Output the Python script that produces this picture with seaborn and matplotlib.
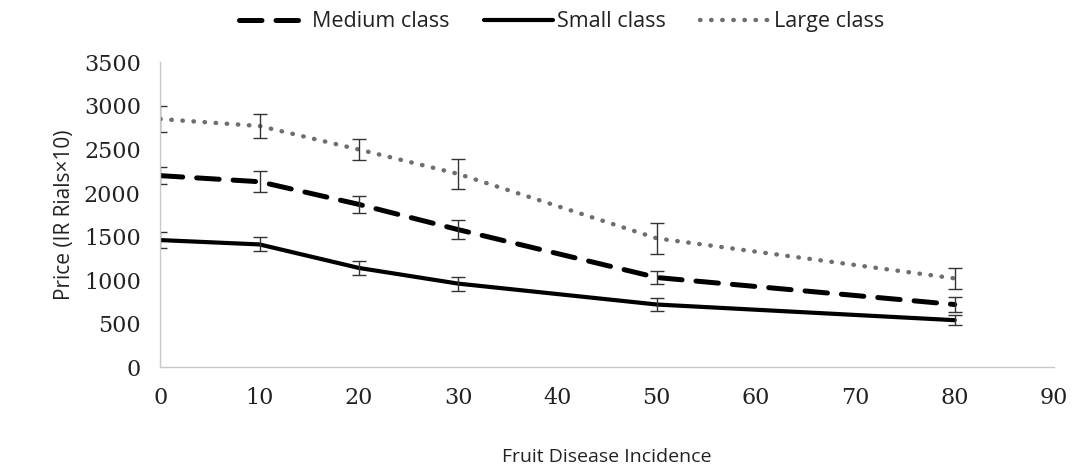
import pandas as pd
import seaborn as sns
import matplotlib.pyplot as plt

# Data
incidence = [0, 10, 20, 30, 50, 80]
medium_price = [2200, 2130, 1870, 1580, 1030, 720]
small_price = [1460, 1410, 1140, 960, 720, 540]
large_price = [2850, 2770, 2500, 2220, 1480, 1020]
medium_err = [100, 120, 100, 110, 80, 90]
small_err = [90, 80, 80, 80, 70, 60]
large_err = [150, 140, 120, 170, 180, 120]

classes = ['Medium class', 'Small class', 'Large class']
prices = [medium_price, small_price, large_price]
errors = [medium_err, small_err, large_err]

rows = []
for c, p, e in zip(classes, prices, errors):
    for x, y, err in zip(incidence, p, e):
        rows.append({'incidence': x, 'price': y, 'err': err, 'cls': c})
df = pd.DataFrame(rows)

sns.set_style('white')
plt.rcParams['font.family'] = ['Open Sans', 'DejaVu Sans']

fig = plt.figure(figsize=(10.9, 4.66), dpi=100)
ax = fig.add_axes([0.147, 0.212, 0.82, 0.654])

styles = {
    'Medium class': dict(color='black', ls=(0, (4.5, 2.8)), lw=3.6),
    'Small class': dict(color='black', ls='-', lw=3.0),
    'Large class': dict(color='#6e6e6e', ls=(0, (0.1, 2.4)), lw=3.2),
}

for c in classes:
    sub = df[df['cls'] == c]
    st = styles[c]
    sns.lineplot(data=sub, x='incidence', y='price', ax=ax, color=st['color'],
                 linewidth=st['lw'], label=c, dash_capstyle='round',
                 solid_capstyle='round')
    ax.lines[-1].set_linestyle(st['ls'])
    ax.errorbar(sub['incidence'], sub['price'], yerr=sub['err'], fmt='none',
                ecolor='#333333', elinewidth=1.0, capsize=5, capthick=1.0)

ax.set_xlim(0, 90)
ax.set_ylim(0, 3500)
ax.set_xticks(range(0, 91, 10))
ax.set_yticks(range(0, 3501, 500))

for s in ['top', 'right']:
    ax.spines[s].set_visible(False)
for s in ['left', 'bottom']:
    ax.spines[s].set_color('#c8c8c8')
    ax.spines[s].set_linewidth(1.0)

ax.tick_params(axis='both', which='both', direction='out', length=6,
               color='#a0a0a0', width=1.0, labelsize=16, pad=8)
for lab in ax.get_xticklabels() + ax.get_yticklabels():
    lab.set_family('DejaVu Serif')
    lab.set_color('#222222')

ax.set_xlabel('Fruit Disease Incidence', fontsize=14, labelpad=28, color='#222222')
ax.set_ylabel('Price (IR Rials\u00d710)', fontsize=15, labelpad=6, color='#222222')

handles, labels = ax.get_legend_handles_labels()
leg = fig.legend(handles, labels, loc='center', bbox_to_anchor=(0.515, 0.953),
                 ncol=3, frameon=False, fontsize=15.5, handlelength=3.2,
                 handletextpad=0.2, columnspacing=1.6)
for t in leg.get_texts():
    t.set_color('#222222')
if ax.get_legend():
    ax.get_legend().remove()

fig.savefig('out.png', dpi=100)
